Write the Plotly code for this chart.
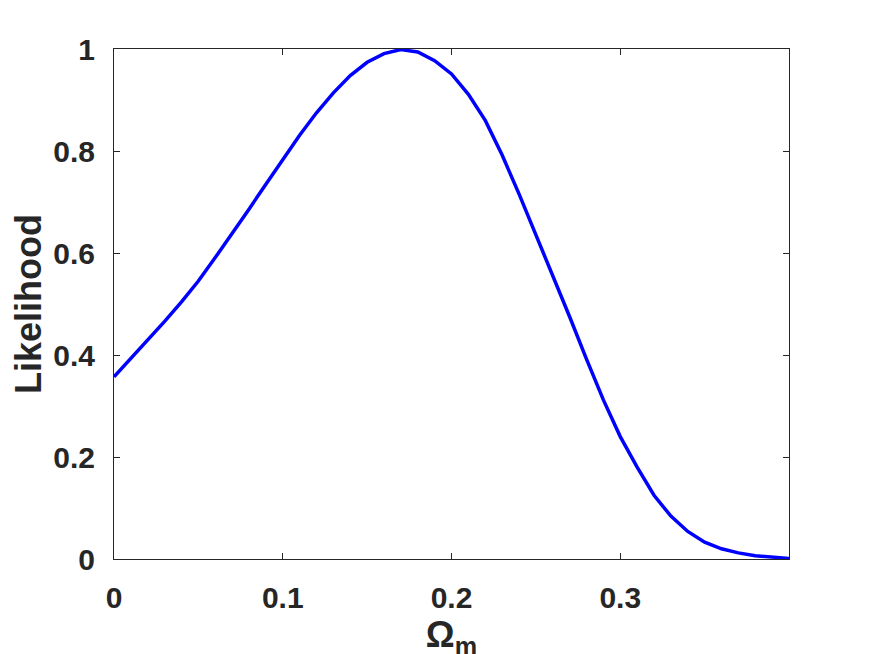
#!/usr/bin/env python3
#
# likelihood_omega_m.py

import plotly.graph_objects as go

omega_m = [0.00, 0.01, 0.02, 0.03, 0.04, 0.05, 0.06, 0.07, 0.08, 0.09,
           0.10, 0.11, 0.12, 0.13, 0.14, 0.15, 0.16, 0.17, 0.18, 0.19,
           0.20, 0.21, 0.22, 0.23, 0.24, 0.25, 0.26, 0.27, 0.28, 0.29,
           0.30, 0.31, 0.32, 0.33, 0.34, 0.35, 0.36, 0.37, 0.38, 0.39, 0.40]
likelihood = [0.357, 0.393, 0.429, 0.466, 0.504, 0.545, 0.591, 0.638, 0.686, 0.735,
              0.784, 0.831, 0.875, 0.914, 0.948, 0.974, 0.991, 0.999, 0.994, 0.977,
              0.951, 0.911, 0.860, 0.792, 0.716, 0.637, 0.557, 0.475, 0.392, 0.312,
              0.240, 0.180, 0.125, 0.084, 0.054, 0.033, 0.020, 0.012, 0.0065, 0.003, 0.0012]

x_ticks = [0, 0.1, 0.2, 0.3]
x_tick_labels = ["0", "0.1", "0.2", "0.3"]
y_ticks = [0, 0.2, 0.4, 0.6, 0.8, 1]
y_tick_labels = ["0", "0.2", "0.4", "0.6", "0.8", "1"]

FONT = "Liberation Sans, Arial, Helvetica, sans-serif"
AXIS_COLOR = "#262626"

fig = go.Figure()
fig.add_trace(go.Scatter(x=omega_m, y=likelihood, mode="lines",
                         line=dict(color="#0000ff", width=3.5), showlegend=False))

axis_style = dict(
    showline=True, mirror="ticks", linecolor=AXIS_COLOR, linewidth=1,
    ticks="inside", ticklen=6, tickwidth=1, tickcolor=AXIS_COLOR,
    showgrid=False, zeroline=False,
    tickfont=dict(family=FONT, size=30, color=AXIS_COLOR, weight="bold"),
)

fig.update_xaxes(range=[0, 0.4], tickvals=x_ticks, ticktext=x_tick_labels,
                 ticklabelstandoff=12,
                 title=dict(text="Ω<sub>m</sub>", standoff=2,
                            font=dict(family=FONT, size=36, color=AXIS_COLOR, weight="bold")),
                 **axis_style)
fig.update_yaxes(range=[0, 1], tickvals=y_ticks, ticktext=y_tick_labels,
                 ticklabelstandoff=12,
                 title=dict(text="Likelihood", standoff=0,
                            font=dict(family=FONT, size=36, color=AXIS_COLOR, weight="bold")),
                 **axis_style)

# the page adds an 8px offset, so margins are shifted to keep the axes box in place
fig.update_layout(
    width=872, height=654,
    margin=dict(l=106, r=91, t=41, b=103),
    plot_bgcolor="white", paper_bgcolor="white",
)

fig.write_html("out.html")
